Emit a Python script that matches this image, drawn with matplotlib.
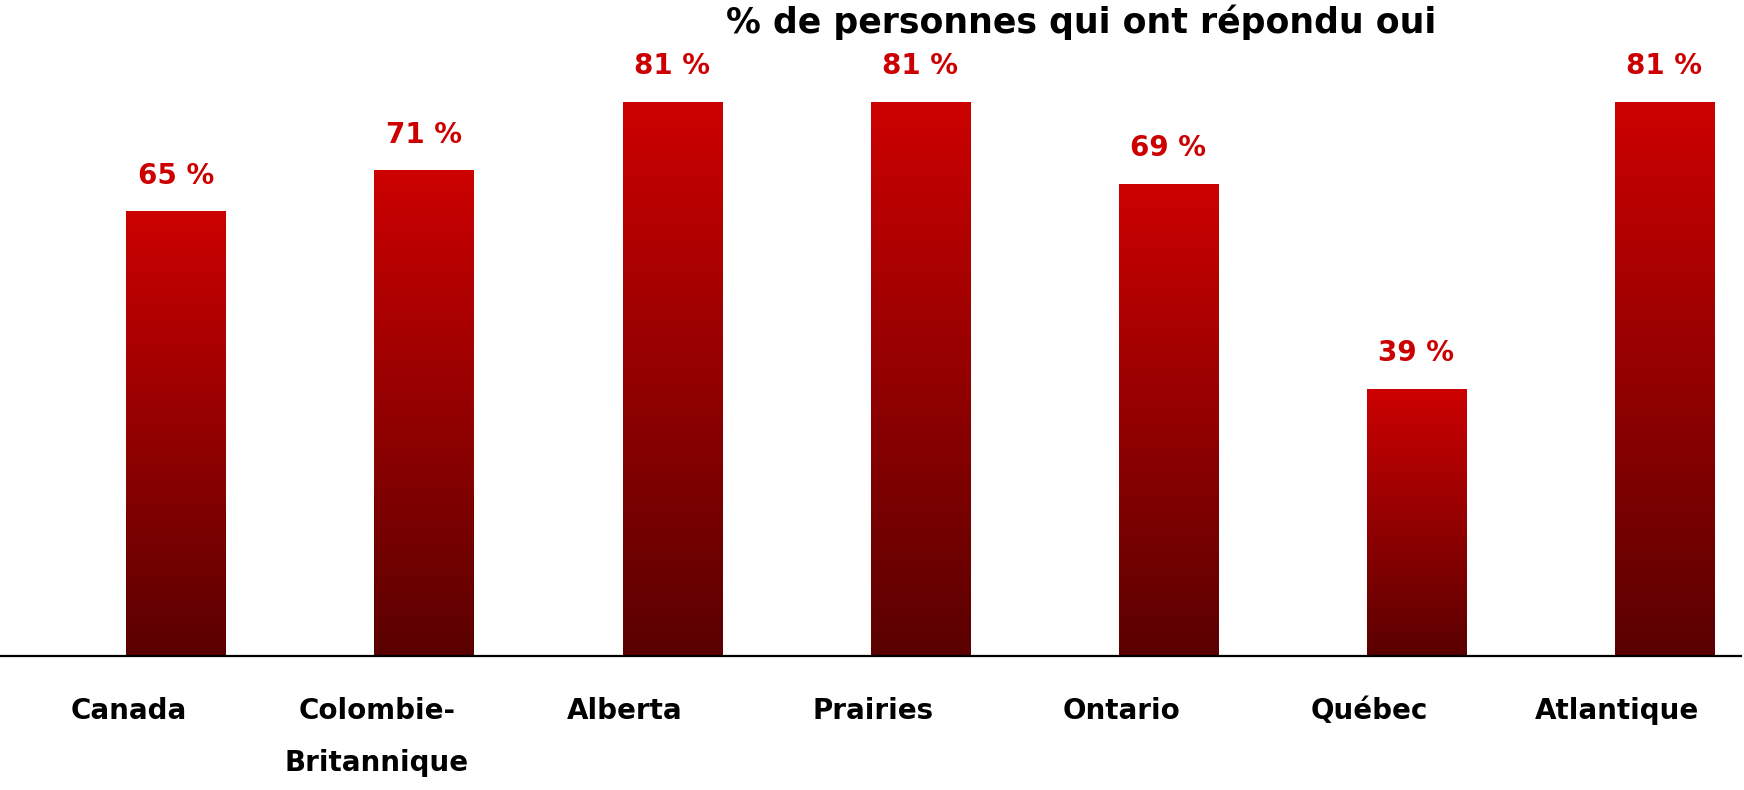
import matplotlib.pyplot as plt
from matplotlib.colors import LinearSegmentedColormap
import numpy as np

regions = ['Canada', 'Colombie-\nBritannique', 'Alberta', 'Prairies', 'Ontario', 'Québec', 'Atlantique']
pct_yes = [65, 71, 81, 81, 69, 39, 81]
title = '% de personnes qui ont répondu oui'

red_grad = LinearSegmentedColormap.from_list('redgrad', ['#5a0000', '#cc0000'])

fig = plt.figure(figsize=(17.44, 7.9), dpi=100)
ax = fig.add_axes([0, 0.1696, 0.9983, 0.8304])

x = np.arange(len(regions))
bw = 0.40
bars = ax.bar(x, pct_yes, width=bw, color='none', edgecolor='none')

# gradient fill, each bar from dark at the base to bright red at its top
grad = np.linspace(0, 1, 256).reshape(-1, 1)
for b in bars:
    x0, w, h = b.get_x(), b.get_width(), b.get_height()
    ax.imshow(grad, cmap=red_grad, origin='lower', aspect='auto',
              extent=(x0, x0 + w, 0, h), zorder=2)
    ax.text(x0 + w / 2, h + 5.3, f'{h:.0f} %', ha='center', va='center',
            color='#cc0000', fontsize=20, fontweight='bold')

ax.set_xlim(-0.71, 6.31)
ax.set_ylim(0, 96)
ax.axhline(0, color='black', lw=1.6, zorder=3, clip_on=False)
for s in ax.spines.values():
    s.set_visible(False)
ax.set_yticks([])
ax.set_xticks([])

# category labels sit a little left of the bar centres, as in the original
for xi, name in zip(x, regions):
    ax.text(xi - 0.19, -6.0, name, ha='center', va='top', fontsize=20,
            fontweight='bold', linespacing=2.1)

fig.text(0.62, 0.972, title, ha='center', va='center', fontsize=25, fontweight='bold')

fig.savefig('out.png', dpi=100)
